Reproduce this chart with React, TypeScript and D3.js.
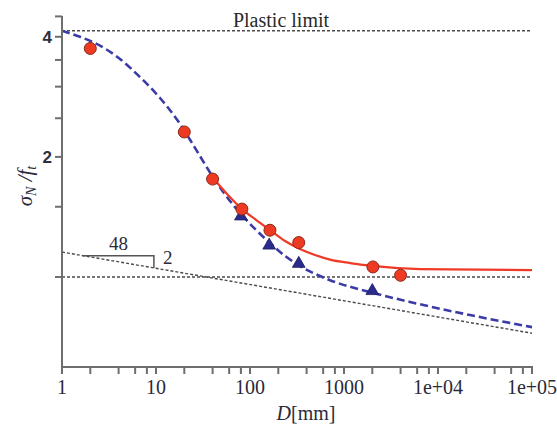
import React from "react";
import * as d3 from "d3";

// ---- data ----
const redD = [2, 20, 40, 82, 163, 330, 2030, 4000];
const redS = [3.74, 2.31, 1.76, 1.48, 1.31, 1.22, 1.06, 1.01];

const triD = [80, 160, 330, 2000];
const triS = [1.42, 1.2, 1.08, 0.923];

// blue dashed curve
const blueCurveD = [1, 1.554, 2.537, 4.14, 6.76, 11.03, 18, 26, 40.4, 61.3, 78.3, 113, 163, 236, 340, 710, 1890, 5040, 21900, 1e5];
const blueCurveS = [4.14, 4.0, 3.8, 3.52, 3.17, 2.81, 2.42, 2.107, 1.78, 1.551, 1.447, 1.32, 1.217, 1.129, 1.066, 0.982, 0.917, 0.866, 0.803, 0.749];

// red solid curve
const redCurveD = [40.4, 58.3, 82.2, 115.8, 163, 236, 340, 491, 710, 1158, 1990, 6435, 1e5];
const redCurveS = [1.77, 1.605, 1.48, 1.391, 1.312, 1.231, 1.176, 1.136, 1.106, 1.084, 1.066, 1.047, 1.041];

// gray dashed Weibull asymptote (end points)
const weibullD = [1, 1e5];
const weibullS = [1.155, 0.723];

// slope triangle
const slopeRunD = [1.67, 9.5];
const slopeRunLabel = "48";
const slopeRiseLabel = "2";

const plasticLimit = 4.14;
const unitLevel = 1;
const plasticLabel = "Plastic limit";

const xMajor = [1, 10, 100, 1000, 1e4, 1e5];
const xMajorLabels = ["1", "10", "100", "1000", "1e+04", "1e+05"];
const xMinorMult = [2, 4, 6, 8];
const yMajor = [4, 2];
const yMajorLabels = ["4", "2"];
const yOtherTicks = [4.5, 3.5, 3, 2.5, 1.5, 1];

const W = 557;
const H = 434;
const L = 62, R = 532, T = 16, B = 367;

export default function App() {
  const x = d3.scaleLog().domain([1, 1e5]).range([L, R]);
  const y = d3.scaleLog().domain([0.595, 4.51]).range([B, T]);

  const line = d3
    .line<[number, number]>()
    .x((d) => x(d[0]))
    .y((d) => y(d[1]))
    .curve(d3.curveMonotoneX);

  const bluePts = blueCurveD.map((d, i) => [d, blueCurveS[i]] as [number, number]);
  const redPts = redCurveD.map((d, i) => [d, redCurveS[i]] as [number, number]);

  const wSlope = Math.log(weibullS[1] / weibullS[0]) / Math.log(weibullD[1] / weibullD[0]);
  const wAt = (d: number) => weibullS[0] * Math.pow(d / weibullD[0], wSlope);

  const xMinor: number[] = [];
  xMajor.slice(0, -1).forEach((dec) => xMinorMult.forEach((m) => xMinor.push(dec * m)));

  const tri = d3.symbol().type(d3.symbolTriangle).size(70)() as string;

  const axisColor = "#6e6e6e";
  const dashGray = "#4a4a4a";
  const serif = "'Liberation Serif', 'Times New Roman', serif";

  const sx0 = slopeRunD[0], sx1 = slopeRunD[1];
  const sTop = wAt(sx0);
  const sBot = wAt(sx1);

  return (
    <svg
      width={W}
      height={H}
      style={{ position: "absolute", left: 0, top: 0, background: "#fff" }}
    >
      <rect x={0} y={0} width={W} height={H} fill="#fff" />

      {/* reference lines */}
      <line x1={x(1)} x2={x(1e5)} y1={y(plasticLimit)} y2={y(plasticLimit)} stroke={dashGray} strokeWidth={1.5} strokeDasharray="3,2" />
      <line x1={x(1)} x2={x(1e5)} y1={y(unitLevel)} y2={y(unitLevel)} stroke={dashGray} strokeWidth={1.5} strokeDasharray="3,2" />
      <line x1={x(weibullD[0])} x2={x(weibullD[1])} y1={y(weibullS[0])} y2={y(weibullS[1])} stroke={dashGray} strokeWidth={1.4} strokeDasharray="3,2" />

      {/* slope triangle */}
      <path
        d={`M${x(sx0)},${y(sTop)} H${x(sx1)} V${y(sBot)}`}
        fill="none"
        stroke="#555"
        strokeWidth={1.5}
      />
      <text x={(x(sx0) + x(sx1)) / 2} y={y(sTop) - 6} textAnchor="middle" fontFamily={serif} fontSize={19} fill="#2a2a3a">
        {slopeRunLabel}
      </text>
      <text x={x(sx1) + 9} y={y(sBot) - 4} textAnchor="start" fontFamily={serif} fontSize={19} fill="#2a2a3a">
        {slopeRiseLabel}
      </text>

      <text x={281} y={27} textAnchor="middle" fontFamily={serif} fontSize={20} fill="#2a2a2a">
        {plasticLabel}
      </text>

      {/* curves */}
      <path d={line(bluePts) || ""} fill="none" stroke="#3b3ba8" strokeWidth={2.6} strokeDasharray="8,4" />
      <path d={line(redPts) || ""} fill="none" stroke="#ee3a26" strokeWidth={2.2} />

      {/* triangles */}
      {triD.map((d, i) => (
        <path key={"t" + i} d={tri} transform={`translate(${x(d)},${y(triS[i])})`} fill="#2b2b8c" stroke="#1e1e66" strokeWidth={0.8} />
      ))}
      {/* circles */}
      {redD.map((d, i) => (
        <circle key={"c" + i} cx={x(d)} cy={y(redS[i])} r={6} fill="#ee3a22" stroke="#8a2a1a" strokeWidth={1} />
      ))}

      {/* axes */}
      <line x1={L} x2={L} y1={T} y2={B} stroke={axisColor} strokeWidth={2} />
      <line x1={L} x2={R + 1} y1={B} y2={B} stroke={axisColor} strokeWidth={2} />

      {yMajor.concat(yOtherTicks).map((v, i) => (
        <line key={"yt" + i} x1={L - 7} x2={L} y1={y(v)} y2={y(v)} stroke={axisColor} strokeWidth={2} />
      ))}
      {yMajor.map((v, i) => (
        <text key={"yl" + i} x={L - 10} y={y(v)} dy="0.36em" textAnchor="end" fontFamily="'Liberation Sans', Arial, sans-serif" fontSize={17} fontWeight="bold" fill="#2e2e3e">
          {yMajorLabels[i]}
        </text>
      ))}

      {xMajor.concat(xMinor).map((v, i) => (
        <line key={"xt" + i} x1={x(v)} x2={x(v)} y1={B} y2={B + 7} stroke={axisColor} strokeWidth={2} />
      ))}
      {xMajor.map((v, i) => (
        <text key={"xl" + i} x={x(v)} y={394} textAnchor="middle" fontFamily={serif} fontSize={20} fill="#2a2a3a">
          {xMajorLabels[i]}
        </text>
      ))}

      <text x={306} y={420} textAnchor="middle" fontFamily={serif} fontSize={20} fill="#2a2a3a">
        <tspan fontStyle="italic">D</tspan>[mm]
      </text>

      <text transform="translate(32,186) rotate(-90)" textAnchor="middle" fontFamily={serif} fontSize={21} fontStyle="italic" fill="#2a2a3a">
        σ<tspan fontSize={14} dy={4}>N</tspan>
        <tspan dy={-4}> /f</tspan>
        <tspan fontSize={14} dy={4}>t</tspan>
      </text>
    </svg>
  );
}
